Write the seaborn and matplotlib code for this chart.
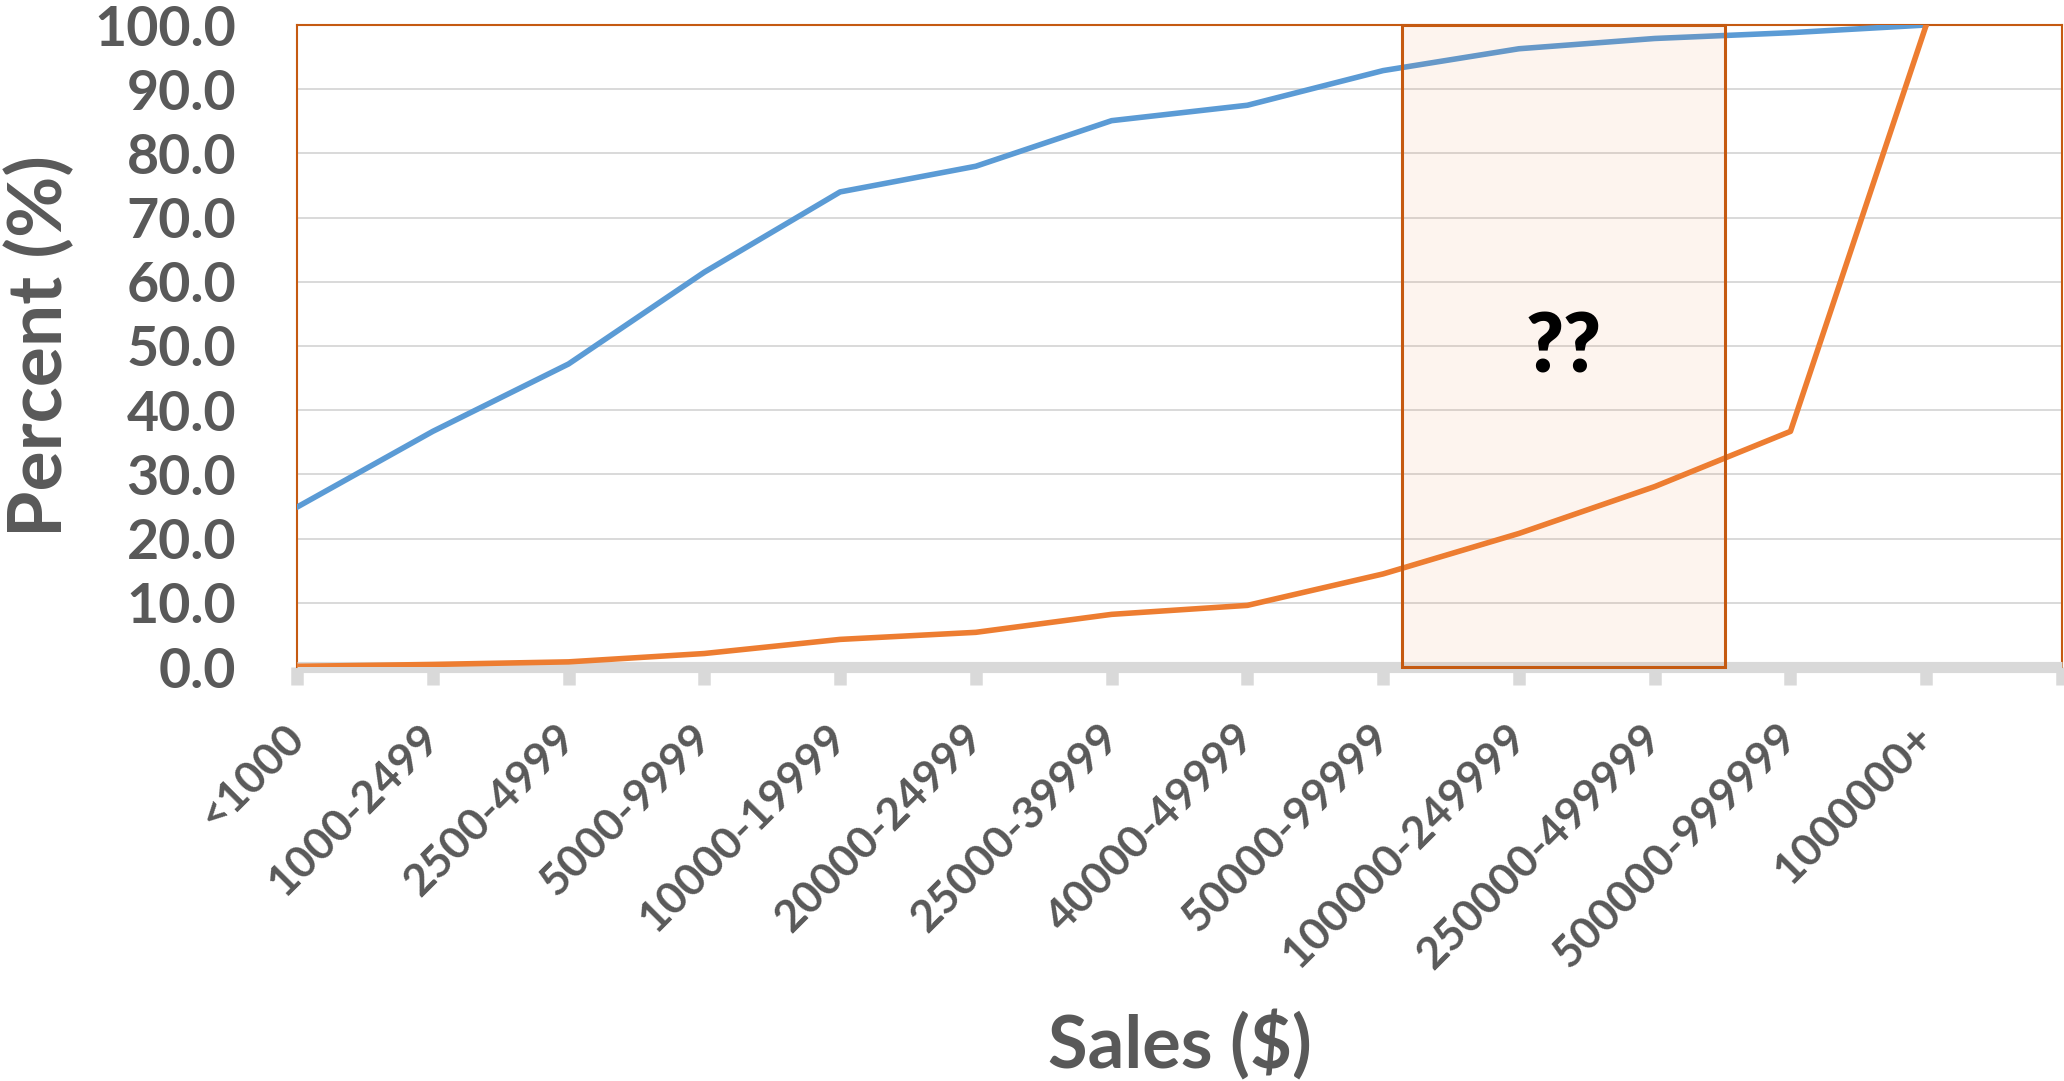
import pandas as pd
import seaborn as sns
import matplotlib.pyplot as plt
from matplotlib.patches import Rectangle
from matplotlib.colors import to_rgba

sales_bins = ['<1000', '1000-2499', '2500-4999', '5000-9999', '10000-19999',
              '20000-24999', '25000-39999', '40000-49999', '50000-99999',
              '100000-249999', '250000-499999', '500000-999999', '1000000+']
cum_count = [24.9, 36.7, 47.2, 61.5, 74.0, 78.0, 85.1, 87.5, 92.9, 96.3, 97.9, 98.8, 100.0]
cum_sales = [0.1, 0.4, 0.8, 2.1, 4.3, 5.4, 8.2, 9.6, 14.5, 20.8, 28.1, 36.7, 100.0]
y_ticks = [0, 10, 20, 30, 40, 50, 60, 70, 80, 90, 100]

df = pd.DataFrame({
    'Sales': sales_bins * 2,
    'Percent': cum_count + cum_sales,
    'series': ['count'] * len(sales_bins) + ['sales'] * len(sales_bins),
})

sns.set_style('white')
plt.rcParams['font.family'] = ['Lato', 'DejaVu Sans']
plt.rcParams['font.weight'] = 'bold'

text_grey = '#595959'
frame_orange = '#c55a11'
axis_grey = '#d9d9d9'

fig = plt.figure(figsize=(20.64, 10.81), dpi=100)
ax = fig.add_axes([297 / 2064, 1 - 667 / 1081, 1765 / 2064, 642 / 1081])

sns.lineplot(data=df, x='Sales', y='Percent', hue='series', sort=False,
             palette={'count': '#5b9bd5', 'sales': '#ed7d31'},
             linewidth=4, legend=False, ax=ax, zorder=3)

ax.set_xlim(0, len(sales_bins))
ax.set_ylim(0, 100)
ax.set_xticks(range(len(sales_bins) + 1))
ax.set_xticklabels(sales_bins + [''], rotation=45, ha='right', va='center',
                   rotation_mode='anchor', fontsize=32, color=text_grey,
                   fontweight='bold')
ax.set_yticks(y_ticks)
ax.set_yticklabels([f'{v:.1f}' for v in y_ticks], fontsize=40,
                   color=text_grey, fontweight='bold')
ax.tick_params(axis='y', length=0, pad=44)
ax.tick_params(axis='x', bottom=True, direction='out', length=13, width=9,
               color=axis_grey, pad=33)

ax.grid(axis='y', color=axis_grey, linewidth=1.4)
ax.grid(axis='x', visible=False)
ax.set_axisbelow(True)

for side in ['left', 'top', 'right']:
    ax.spines[side].set_color(frame_orange)
    ax.spines[side].set_linewidth(1.5)
ax.spines['bottom'].set_color(axis_grey)
ax.spines['bottom'].set_linewidth(8)
ax.spines['bottom'].set_capstyle('butt')

# highlighted region
ax.add_patch(Rectangle((8.14, 0), 2.38, 100, facecolor=to_rgba('#ed7d31', 0.08),
                       edgecolor=frame_orange, linewidth=2.2, zorder=4,
                       clip_on=False))
ax.text(9.33, 49.5, '??', fontsize=58, fontweight='heavy', color='black',
        ha='center', va='center', zorder=5)

ax.set_xlabel('Sales ($)', fontsize=52, fontweight='bold', color=text_grey,
              va='center')
ax.xaxis.set_label_coords(0.5, -(1046 - 667) / 642)
ax.set_ylabel('Percent (%)', fontsize=54, fontweight='bold', color=text_grey,
              va='center')
ax.yaxis.set_label_coords(-(297 - 40) / 1765, 0.5)

fig.savefig('out.png', dpi=100)
